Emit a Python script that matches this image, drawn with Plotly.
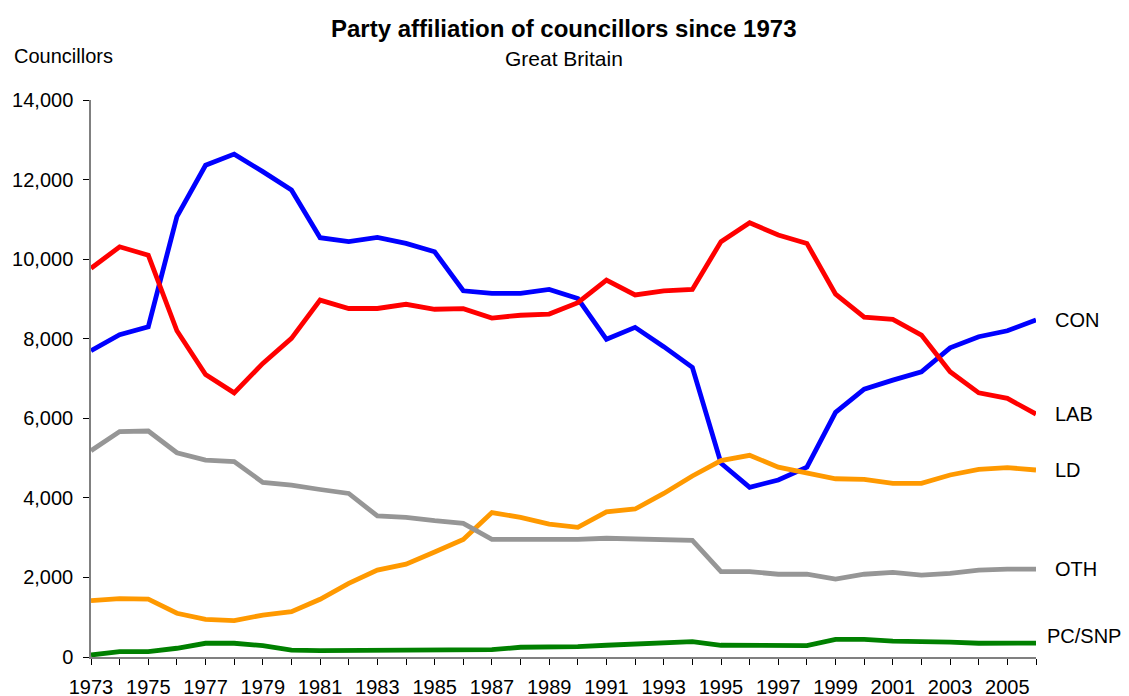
import plotly.graph_objects as go

years = list(range(1973, 2007))

con = [7700, 8100, 8300, 11070, 12360, 12640, 12200, 11740, 10540, 10440, 10545,
       10395, 10185, 9205, 9140, 9140, 9240, 9010, 7985, 8285, 7800, 7280,
       4870, 4265, 4450, 4770, 6150, 6730, 6960, 7170, 7770, 8050, 8200, 8470]
lab = [9770, 10310, 10100, 8200, 7100, 6640, 7380, 8010, 8970, 8760, 8760,
       8865, 8740, 8755, 8520, 8590, 8620, 8905, 9475, 9100, 9205, 9240,
       10440, 10915, 10605, 10395, 9120, 8540, 8485, 8090, 7170, 6640, 6500, 6105]
ld = [1415, 1465, 1455, 1100, 945, 915, 1055, 1140, 1450, 1850, 2185,
      2335, 2640, 2955, 3630, 3510, 3340, 3260, 3650, 3720, 4110, 4550,
      4935, 5070, 4770, 4630, 4480, 4465, 4365, 4365, 4575, 4715, 4760, 4700]
oth = [5185, 5665, 5680, 5135, 4950, 4910, 4390, 4320, 4210, 4110, 3545,
       3510, 3425, 3360, 2955, 2950, 2940, 2955, 2985, 2960, 2940, 2930,
       2145, 2145, 2080, 2085, 1960, 2080, 2125, 2060, 2100, 2185, 2210, 2210]
pcsnp = [50, 135, 135, 220, 345, 345, 285, 175, 160, 160, 160,
         160, 165, 180, 185, 245, 245, 260, 295, 325, 350, 385,
         295, 295, 285, 285, 445, 445, 400, 400, 375, 345, 345, 350]

series_names = ["CON", "LAB", "LD", "OTH", "PC/SNP"]
series_values = [con, lab, ld, oth, pcsnp]
series_colors = ["#0000FF", "#FF0000", "#FF9900", "#969696", "#008000"]
label_yshift = [0, 0, 0, 0, 7]
label_xshift = [17, 17, 17, 17, 9]

tick_text = [str(y) if (y - 1973) % 2 == 0 else "" for y in years]
y_ticks = list(range(0, 14001, 2000))

FONT = "Liberation Sans, Arial, sans-serif"

fig = go.Figure()
for name, vals, col in zip(series_names, series_values, series_colors):
    fig.add_trace(go.Scatter(x=years, y=vals, mode="lines", name=name,
                             line=dict(color=col, width=4.8), cliponaxis=False))

for name, vals, ys, xs in zip(series_names, series_values, label_yshift, label_xshift):
    fig.add_annotation(x=years[-1], y=vals[-1], xref="x", yref="y", text=name,
                       showarrow=False, xanchor="left", yanchor="middle",
                       xshift=xs, yshift=ys,
                       font=dict(family=FONT, size=20, color="black"))

fig.add_annotation(x=0.5, y=1.128, xref="paper", yref="paper",
                   text="<b>Party affiliation of councillors since 1973</b>",
                   showarrow=False, xanchor="center", yanchor="middle",
                   font=dict(family=FONT, size=24, color="black"))
fig.add_annotation(x=0.5, y=1.074, xref="paper", yref="paper",
                   text="Great Britain", showarrow=False, xanchor="center",
                   yanchor="middle",
                   font=dict(family=FONT, size=21, color="black"))
fig.add_annotation(x=-0.0836, y=1.079, xref="paper", yref="paper", text="Councillors",
                   showarrow=False, xanchor="left", yanchor="middle",
                   font=dict(family=FONT, size=20, color="black"))

# the page body adds an 8px offset, so margins are reduced on the left/top
fig.update_layout(
    width=1129, height=696,
    margin=dict(l=83, r=101, t=92, b=47, autoexpand=False),
    plot_bgcolor="white", paper_bgcolor="white",
    showlegend=False,
    font=dict(family=FONT, size=20, color="black"),
)
fig.update_xaxes(range=[1973, 2006], tickmode="array", tickvals=years, ticktext=tick_text,
                 ticks="outside", ticklen=6, tickcolor="black", tickwidth=1,
                 showline=True, linecolor="#808080", linewidth=1.5, showgrid=False,
                 zeroline=False, tickfont=dict(size=20), ticklabelstandoff=5,
                 automargin=False)
fig.update_yaxes(range=[0, 14000], tickmode="array", tickvals=y_ticks,
                 tickformat=",d", ticks="outside", ticklen=6, tickcolor="black",
                 showline=True, linecolor="#808080", linewidth=1.5, showgrid=False,
                 zeroline=False, tickfont=dict(size=20), ticklabelstandoff=6,
                 automargin=False)

fig.write_html("out.html")
